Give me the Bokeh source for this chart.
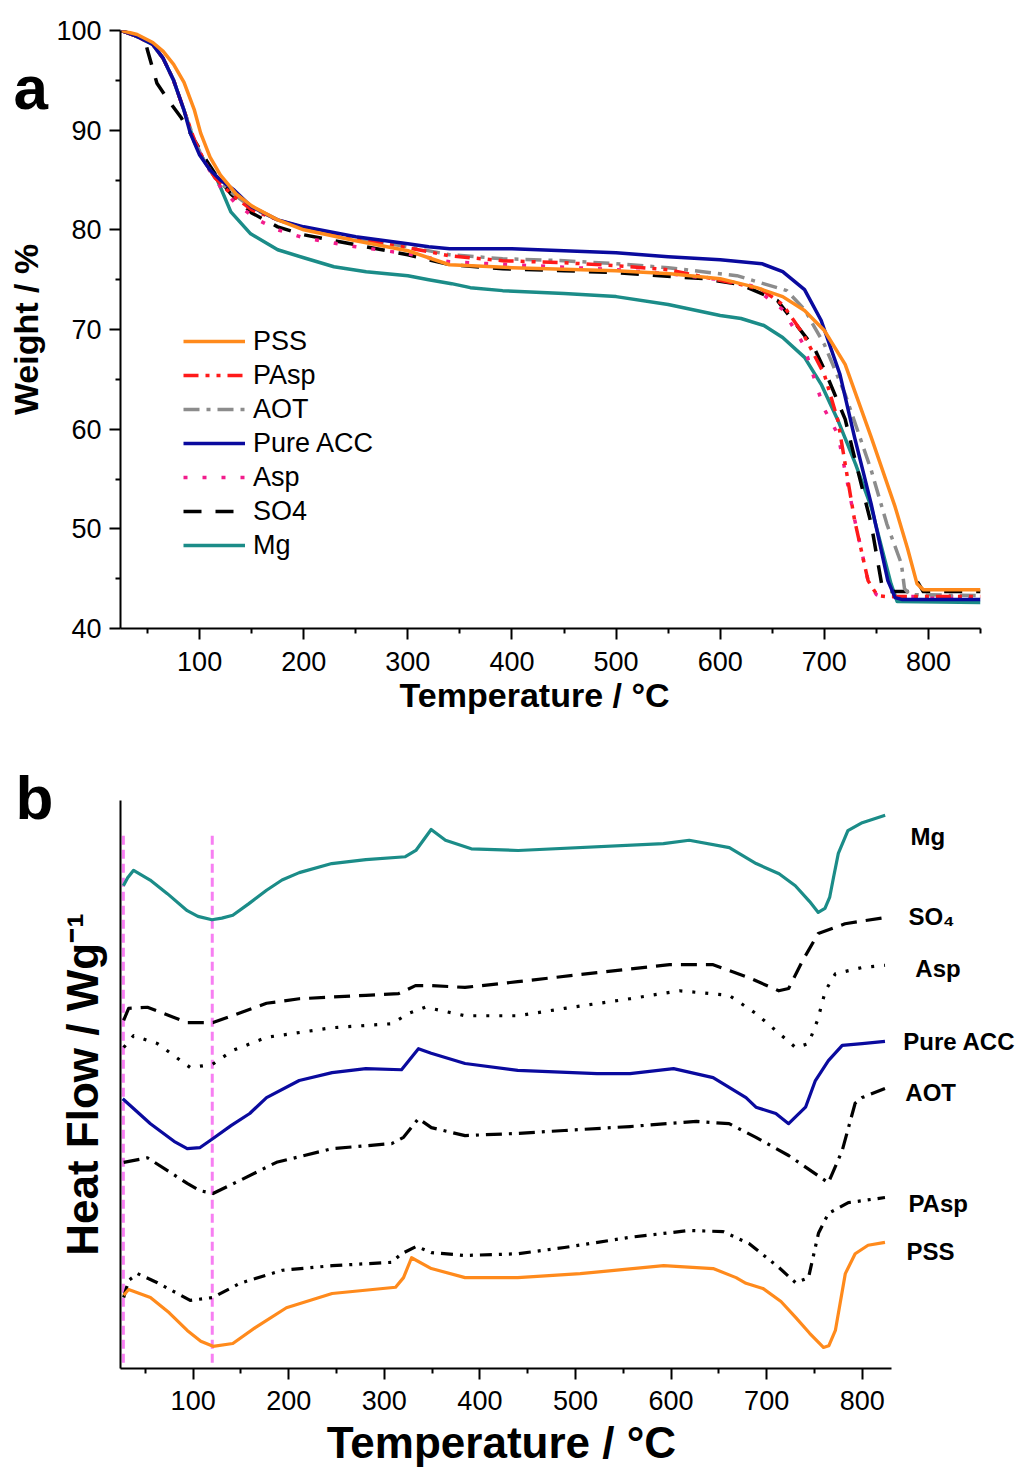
from bokeh.plotting import figure
from bokeh.layouts import column
from bokeh.models import Range1d, Label, Legend, LegendItem, FixedTicker
from bokeh.embed import file_html
from bokeh.resources import INLINE

FONT = "Liberation Sans"

# ---------------- Panel a : TGA (Weight / %) ----------------
pss_t = [25, 40, 55, 65, 75, 85, 95, 101, 110, 120, 135, 150, 175, 200, 250, 300, 320, 340, 400, 500, 552, 600, 635, 660, 681, 700, 720, 745, 768, 780, 789, 795, 850]
pss_w = [100, 99.6, 98.8, 97.9, 96.6, 94.8, 92.0, 89.7, 87.3, 85.5, 83.6, 82.4, 81.0, 80.0, 78.9, 77.9, 77.2, 76.5, 76.2, 75.9, 75.6, 75.1, 74.2, 73.3, 71.9, 69.9, 66.5, 59.2, 52.2, 48.0, 44.5, 43.9, 43.9]

pacc_t = [25, 40, 55, 65, 75, 85, 91, 100, 110, 120, 133, 150, 175, 200, 250, 300, 320, 340, 400, 500, 550, 600, 640, 660, 681, 697, 715, 729, 745, 761, 768, 775, 850]
pacc_w = [100, 99.4, 98.6, 97.2, 95.0, 92.0, 89.7, 87.5, 86.0, 85.0, 84.0, 82.3, 81.0, 80.3, 79.3, 78.6, 78.3, 78.1, 78.1, 77.7, 77.3, 77.0, 76.6, 75.8, 74.0, 70.9, 65.5, 59.2, 52.5, 44.8, 43.1, 42.9, 42.9]

mg_t = [25, 40, 55, 65, 75, 85, 95, 105, 117, 130, 149, 175, 200, 229, 260, 300, 320, 342, 360, 391, 450, 500, 550, 600, 620, 642, 660, 681, 697, 713, 730, 745, 764, 770, 850]
mg_w = [100, 99.4, 98.6, 97.2, 95.0, 92.0, 88.8, 86.8, 85.0, 81.8, 79.6, 78.0, 77.2, 76.3, 75.8, 75.4, 75.0, 74.6, 74.2, 73.9, 73.6, 73.3, 72.5, 71.4, 71.1, 70.4, 69.2, 67.2, 64.5, 60.9, 56.5, 52.2, 44.5, 42.7, 42.6]

so4_t = [25, 40, 48, 50, 59, 70, 82, 95, 105, 115, 130, 150, 175, 200, 250, 300, 320, 340, 391, 450, 500, 584, 620, 655, 690, 700, 720, 732, 745, 755, 760, 785, 790, 795, 850]
so4_w = [100, 99.4, 98.8, 98.0, 94.7, 93.0, 91.3, 89.0, 87.2, 85.6, 83.6, 81.7, 80.3, 79.5, 78.5, 77.5, 77.0, 76.5, 76.1, 75.9, 75.7, 75.1, 74.5, 72.9, 68.2, 66.0, 61.0, 55.9, 50.5, 44.5, 43.7, 43.7, 44.6, 43.7, 43.7]

asp_t = [25, 40, 55, 65, 75, 85, 95, 105, 120, 135, 156, 175, 200, 250, 300, 340, 400, 500, 550, 600, 630, 660, 680, 693, 700, 713, 729, 742, 750, 755, 850]
asp_w = [100, 99.4, 98.6, 97.2, 95.0, 92.0, 88.8, 86.7, 84.3, 82.6, 81.0, 80.0, 79.2, 78.3, 77.6, 76.8, 76.5, 76.0, 75.6, 75.0, 74.4, 72.0, 68.5, 64.2, 62.0, 59.5, 51.0, 44.8, 43.4, 43.2, 43.2]

pasp_t = [25, 40, 55, 65, 75, 85, 95, 105, 115, 130, 150, 175, 200, 250, 300, 340, 391, 450, 500, 550, 616, 640, 660, 680, 700, 713, 729, 742, 751, 760, 850]
pasp_w = [100, 99.4, 98.6, 97.2, 95.0, 92.0, 89.0, 86.8, 85.2, 83.6, 82.0, 81.0, 80.2, 79.1, 78.2, 77.4, 76.9, 76.7, 76.4, 76.0, 74.6, 74.0, 72.5, 69.5, 65.5, 60.9, 50.9, 44.8, 43.3, 43.2, 43.2]

aot_t = [25, 40, 55, 65, 75, 85, 95, 105, 115, 130, 150, 175, 200, 250, 300, 340, 391, 450, 500, 550, 616, 664, 681, 700, 720, 745, 760, 774, 777, 782, 850]
aot_w = [100, 99.4, 98.6, 97.2, 95.0, 92.0, 89.0, 86.8, 85.2, 83.8, 82.2, 81.0, 80.2, 79.1, 78.3, 77.5, 77.1, 76.9, 76.6, 76.2, 75.4, 73.9, 72.0, 68.5, 63.5, 55.9, 50.5, 46.5, 44.0, 43.4, 43.3]

tga_x_ticks = [100, 200, 300, 400, 500, 600, 700, 800]
tga_x_minor = [50, 150, 250, 350, 450, 550, 650, 750, 850]
tga_y_ticks = [40, 50, 60, 70, 80, 90, 100]
tga_y_minor = [45, 55, 65, 75, 85, 95]

# ---------------- Panel b : DSC (Heat flow, arbitrary offset units) ----------------
dsc_mg_t = [27, 31.5, 37.7, 55, 73, 93.8, 105, 119.7, 130, 141.5, 158, 176.8, 193, 211, 245, 280.7, 322, 333, 349, 364, 391, 440, 592, 619, 661, 689, 713, 730, 745, 754, 761, 766, 770, 775, 785, 800, 824]
dsc_mg_h = [85.0, 86.4, 87.7, 86.0, 83.6, 80.6, 79.6, 79.0, 79.3, 79.8, 81.8, 84.2, 86.0, 87.3, 88.9, 89.6, 90.1, 91.2, 94.9, 93.0, 91.5, 91.2, 92.4, 93.0, 91.7, 88.9, 87.1, 85.0, 82.2, 80.3, 81.0, 83.0, 86.5, 90.7, 94.7, 96.1, 97.4]

dsc_so4_t = [27.3, 32.5, 52.2, 93.8, 120.8, 176.8, 211, 280.7, 315, 332.6, 349, 384.5, 439.6, 522.6, 598.4, 644, 681.5, 712.7, 723, 737.6, 754, 782, 823.8]
dsc_so4_h = [61.3, 63.4, 63.6, 60.9, 60.9, 64.3, 65.1, 65.7, 66.0, 67.4, 67.4, 67.1, 68.1, 69.7, 71.1, 71.1, 68.8, 66.5, 66.9, 71.8, 76.6, 78.3, 79.4]

dsc_asp_t = [27.3, 37.7, 62.6, 96.9, 119.7, 141.5, 176.8, 245.4, 307.7, 325.3, 343, 384.5, 439.6, 488.4, 557, 608.8, 660.7, 688.8, 730.3, 743.8, 753.2, 761.5, 771.9, 799.9, 823.8]
dsc_asp_h = [56.5, 58.6, 57.2, 53.0, 53.5, 56.0, 58.3, 60.0, 60.7, 62.5, 63.6, 62.1, 62.1, 63.4, 65.1, 66.5, 65.7, 62.5, 56.5, 57.2, 61.3, 66.5, 69.5, 70.6, 71.0]

dsc_pacc_t = [26.3, 55.3, 80, 93.8, 107.3, 120.8, 140, 159.2, 176.8, 211, 245.4, 280.7, 318, 335.7, 349, 384.5, 439.6, 522.6, 557, 602.6, 644, 678.4, 688.8, 709.6, 723, 740.7, 751, 764.6, 779.1, 799.9, 823.8]
dsc_pacc_h = [47.5, 43.1, 40.0, 38.7, 38.9, 40.5, 42.8, 44.9, 47.7, 50.7, 52.1, 52.8, 52.6, 56.3, 55.5, 53.7, 52.5, 51.9, 51.9, 52.8, 51.2, 47.7, 46.0, 44.9, 43.1, 46.0, 50.7, 54.2, 56.9, 57.2, 57.6]

dsc_aot_t = [27.3, 52.2, 93.8, 107.3, 120.8, 148.8, 187.2, 245.4, 307.7, 320.1, 335.7, 349.2, 384.5, 439.6, 488.4, 557, 626.5, 660.7, 688.8, 723, 764.6, 779.1, 792.6, 799.9, 823.8]
dsc_aot_h = [36.3, 37.1, 32.6, 31.3, 30.8, 33.1, 36.3, 38.7, 39.6, 40.7, 44.0, 42.4, 41.0, 41.4, 41.9, 42.6, 43.5, 43.1, 40.7, 37.5, 32.7, 38.4, 46.7, 47.7, 49.3]

dsc_pasp_t = [27.3, 32.5, 41.8, 62.6, 96.9, 120.8, 148.8, 193.5, 245.4, 307.7, 318, 333.6, 349.2, 384.5, 439.6, 488.4, 557, 619.2, 654.5, 681.5, 712.7, 730.3, 743.8, 754.2, 764.6, 785.4, 823.8]
dsc_pasp_h = [12.5, 15.5, 16.7, 15.1, 12.0, 12.5, 15.0, 17.3, 18.1, 18.7, 20.2, 21.5, 20.4, 19.9, 20.2, 21.3, 23.1, 24.3, 24.1, 22.0, 17.8, 15.1, 16.0, 23.8, 27.3, 29.2, 30.1]

dsc_pss_t = [27.3, 32.5, 55.3, 75, 93.8, 108, 120.8, 141.5, 165, 197.6, 245.4, 311.8, 320.1, 328.5, 349.2, 384.5, 439.6, 505, 592.2, 644, 668, 678.4, 696, 715, 730.3, 745, 759.4, 765, 771.9, 782.3, 792.6, 806.1, 823.8]
dsc_pss_h = [12.9, 13.9, 12.5, 9.8, 6.7, 4.8, 3.9, 4.4, 7.2, 10.7, 13.2, 14.3, 16.0, 19.5, 17.6, 16.0, 16.0, 16.7, 18.1, 17.6, 16.0, 15.0, 14.1, 11.8, 9.0, 6.2, 3.7, 4.0, 6.7, 16.7, 20.2, 21.7, 22.2]

dsc_marker_t = [27, 120]
dsc_x_ticks = [100, 200, 300, 400, 500, 600, 700, 800]
dsc_x_minor = [50, 150, 250, 350, 450, 550, 650, 750]

# ---------------- styles ----------------
C_PSS = "#FF8A1C"
C_PASP = "#FF1A1A"
C_AOT = "#8C8C8C"
C_PACC = "#0A0A9E"
C_ASP = "#F21C8C"
C_SO4 = "#000000"
C_MG = "#1B8C88"

FRAME_LEFT = 120


def style_axes(p, tick_size, title_size):
    p.grid.visible = False
    p.outline_line_color = None
    p.background_fill_color = "white"
    p.border_fill_color = "white"
    for ax in p.axis:
        ax.axis_line_width = 2
        ax.axis_line_color = "black"
        ax.major_tick_line_width = 2
        ax.minor_tick_line_width = 2
        ax.major_tick_in = 0
        ax.major_tick_out = 11
        ax.minor_tick_in = 0
        ax.minor_tick_out = 5
        ax.major_label_text_font = FONT
        ax.major_label_text_font_size = tick_size
        ax.major_label_text_color = "black"
        ax.axis_label_text_font = FONT
        ax.axis_label_text_font_size = title_size
        ax.axis_label_text_font_style = "bold"
        ax.axis_label_text_color = "black"


def text_label(x, y, text, size, bold=True, align="left", baseline="bottom"):
    return Label(x=x, y=y, text=text, text_font=FONT, text_font_size=size,
                 text_font_style="bold" if bold else "normal", text_color="black",
                 text_align=align, text_baseline=baseline)


# ---- figure a ----
A_FRAME_RIGHT = 980
pa = figure(width=1029, height=720, x_range=Range1d(24, 850), y_range=Range1d(40, 100),
            output_backend="svg", toolbar_location=None,
            min_border_left=FRAME_LEFT, min_border_right=1029 - A_FRAME_RIGHT,
            min_border_top=30, min_border_bottom=92)
pa.frame_align = False
pa.xaxis.ticker = FixedTicker(ticks=tga_x_ticks, minor_ticks=tga_x_minor)
pa.yaxis.ticker = FixedTicker(ticks=tga_y_ticks, minor_ticks=tga_y_minor)
pa.yaxis.axis_label = "Weight / %"
style_axes(pa, "27px", "34px")
pa.xaxis.major_label_standoff = 12
pa.yaxis.major_label_standoff = 8
pa.yaxis.axis_label_standoff = 8

series_a = [
    ("Mg", mg_t, mg_w, C_MG, "solid"),
    ("SO4", so4_t, so4_w, C_SO4, "18 14"),
    ("Asp", asp_t, asp_w, C_ASP, "4 15"),
    ("AOT", aot_t, aot_w, C_AOT, "16 7 4 7"),
    ("PAsp", pasp_t, pasp_w, C_PASP, "15 7 4 7 4 7"),
    ("Pure ACC", pacc_t, pacc_w, C_PACC, "solid"),
    ("PSS", pss_t, pss_w, C_PSS, "solid"),
]
rend = {}
for name, xs, ys, col, dash in series_a:
    rend[name] = pa.line(xs, ys, line_color=col, line_width=3.5, line_dash=dash,
                         line_join="round")

legend_order = ["PSS", "PAsp", "AOT", "Pure ACC", "Asp", "SO4", "Mg"]
legend = Legend(items=[LegendItem(label=n, renderers=[rend[n]]) for n in legend_order],
                location=(63, 66), border_line_color=None, background_fill_alpha=0,
                label_text_font=FONT, label_text_font_size="27px", label_text_color="black",
                glyph_width=62, glyph_height=34, label_height=34, spacing=0, padding=0,
                margin=0, label_standoff=8)
pa.add_layout(legend, "center")

# x title through the (unclipped) bottom side panel, positioned in data units
pa.add_layout(text_label(421.7, 31.4, "Temperature / °C", "34px", align="center"), "below")
# panel letter through the (unclipped) right side panel
pa.add_layout(text_label(-78.8, 90.8, "a", "62px"), "right")

# ---- figure b ----
# frame runs to the right edge so that the curve labels are inside it; the x axis is bounded
pb = figure(width=1029, height=750, x_range=Range1d(24, 975), y_range=Range1d(0, 100),
            output_backend="svg", toolbar_location=None,
            min_border_left=FRAME_LEFT, min_border_right=0,
            min_border_top=80, min_border_bottom=102)
pb.frame_align = False
pb.xaxis.ticker = FixedTicker(ticks=dsc_x_ticks, minor_ticks=dsc_x_minor)
pb.xaxis.bounds = (24, 831)
pb.yaxis.ticker = FixedTicker(ticks=[], minor_ticks=[])
pb.yaxis.axis_label = "Heat Flow / Wg⁻¹"
style_axes(pb, "27px", "44px")
pb.yaxis.major_label_text_font_size = "0px"
pb.xaxis.major_label_standoff = 11
pb.yaxis.axis_label_standoff = 14

for t in dsc_marker_t:
    pb.line([t, t], [1.0, 93.8], line_color="#F77FF2", line_width=3, line_dash="9 5")

series_b = [
    ("Mg", dsc_mg_t, dsc_mg_h, C_MG, "solid"),
    ("SO₄", dsc_so4_t, dsc_so4_h, C_SO4, "16 9"),
    ("Asp", dsc_asp_t, dsc_asp_h, C_SO4, "3 10"),
    ("Pure ACC", dsc_pacc_t, dsc_pacc_h, C_PACC, "solid"),
    ("AOT", dsc_aot_t, dsc_aot_h, C_SO4, "16 7 3 7"),
    ("PAsp", dsc_pasp_t, dsc_pasp_h, C_SO4, "12 7 3 7 3 7"),
    ("PSS", dsc_pss_t, dsc_pss_h, C_PSS, "solid"),
]
for name, xs, ys, col, dash in series_b:
    pb.line(xs, ys, line_color=col, line_width=3.2, line_dash=dash, line_join="round")

label_pos_b = {
    "Mg": (850.4, 93.7),
    "SO₄": (848.3, 79.6),
    "Asp": (855.6, 70.4),
    "Pure ACC": (843.0, 57.6),
    "AOT": (845.1, 48.6),
    "PAsp": (848.3, 29.0),
    "PSS": (846.2, 20.6),
}
for name, (lx, ly) in label_pos_b.items():
    pb.add_layout(text_label(lx, ly, name, "24px", baseline="middle"))

pb.add_layout(text_label(422.5, -17.4, "Temperature / °C", "44px", align="center"), "below")
pb.add_layout(text_label(-85.8, 94.5, "b", "62px"), "above")

layout = column(pa, pb, spacing=0)
open("out.html", "w").write(file_html(layout, INLINE))
